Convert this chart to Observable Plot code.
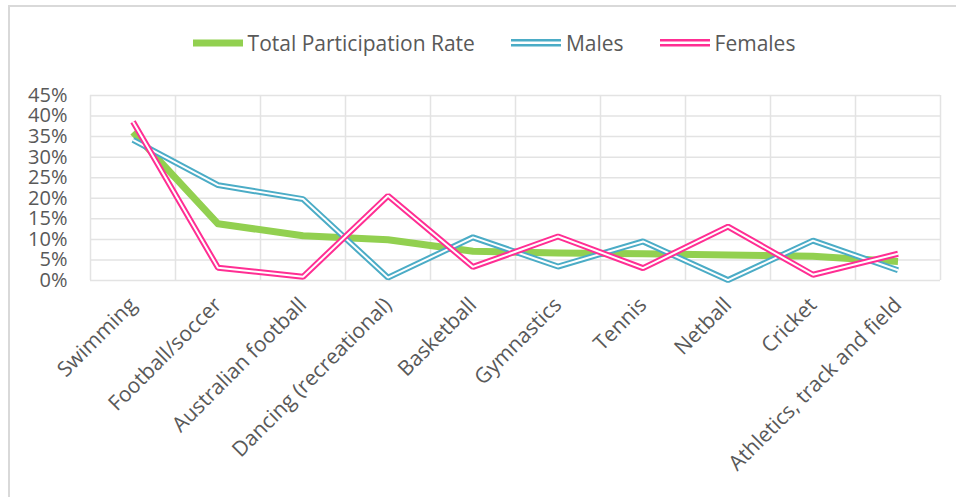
<!DOCTYPE html>
<html>
<head>
<meta charset="utf-8">
<script src="https://cdn.jsdelivr.net/npm/d3@7"></script>
<script src="https://cdn.jsdelivr.net/npm/@observablehq/plot@0.6"></script>
<style>
  html, body { margin: 0; padding: 0; background: #fff; }
  body { width: 956px; height: 497px; overflow: hidden; position: relative; font-family: "Open Sans", sans-serif; }
  #frame { position: absolute; left: 8px; top: 5px; width: 1000px; height: 600px; border-left: 2px solid #D9D9D9; border-top: 2px solid #D9D9D9; box-sizing: border-box; }
  #legend { position: absolute; left: 16px; top: 28px; width: 956px; height: 30px; display: flex; justify-content: center; align-items: center; font-size: 21px; color: #595959; }
  .item { display: flex; align-items: center; margin: 0 18px; }
  .item svg { margin-right: 5px; }
  #chart { position: absolute; left: 0; top: 80px; }
</style>
</head>
<body>
<div id="frame"></div>
<div id="legend"></div>
<div id="chart"></div>
<script>
const categories = ["Swimming", "Football/soccer", "Australian football", "Dancing (recreational)", "Basketball", "Gymnastics", "Tennis", "Netball", "Cricket", "Athletics, track and field"];
const total   = [0.361, 0.138, 0.109, 0.099, 0.071, 0.067, 0.065, 0.062, 0.059, 0.046];
const males   = [0.342, 0.232, 0.198, 0.007, 0.105, 0.034, 0.095, 0.001, 0.097, 0.025];
const females = [0.386, 0.031, 0.009, 0.206, 0.033, 0.107, 0.030, 0.131, 0.014, 0.065];
const seriesNames = ["Total Participation Rate", "Males", "Females"];
const colors = {"Total Participation Rate": "#92D050", "Males": "#4BACC6", "Females": "#FF2E93"};
const yTicks = [0, 0.05, 0.10, 0.15, 0.20, 0.25, 0.30, 0.35, 0.40, 0.45];

const toRows = (vals) => vals.map((v, i) => ({i, v}));
const totalRows = toRows(total), maleRows = toRows(males), femaleRows = toRows(females);
const bounds = d3.range(categories.length + 1).map(k => k - 0.5);

const chart = Plot.plot({
  width: 956,
  height: 417,
  marginTop: 15,
  marginBottom: 217,
  marginLeft: 90,
  marginRight: 16,
  style: {fontFamily: "Open Sans, sans-serif", color: "#595959", background: "transparent"},
  x: {domain: [-0.5, categories.length - 0.5], label: null},
  y: {domain: [0, 0.45], label: null},
  marks: [
    Plot.ruleY(yTicks, {stroke: "#E3E3E3", strokeWidth: 1.5}),
    Plot.ruleX(bounds, {stroke: "#E3E3E3", strokeWidth: 1.5}),
    Plot.axisY({ticks: yTicks, tickFormat: d3.format(".0%"), tickSize: 0, tickPadding: 23, fontSize: 20, fill: "#595959", label: null}),
    Plot.axisX({ticks: d3.range(categories.length), tickFormat: i => categories[i], tickSize: 0, tickPadding: 21, tickRotate: -45, fontSize: 21, fill: "#595959", label: null}),
    Plot.line(totalRows, {x: "i", y: "v", stroke: colors["Total Participation Rate"], strokeWidth: 7, strokeLinejoin: "round", strokeLinecap: "butt"}),
    Plot.line(maleRows, {x: "i", y: "v", stroke: colors["Males"], strokeWidth: 6, strokeLinejoin: "miter", strokeLinecap: "butt"}),
    Plot.line(maleRows, {x: "i", y: "v", stroke: "#fff", strokeWidth: 2, strokeLinejoin: "miter", strokeLinecap: "butt"}),
    Plot.line(femaleRows, {x: "i", y: "v", stroke: colors["Females"], strokeWidth: 6, strokeLinejoin: "miter", strokeLinecap: "butt"}),
    Plot.line(femaleRows, {x: "i", y: "v", stroke: "#fff", strokeWidth: 2, strokeLinejoin: "miter", strokeLinecap: "butt"})
  ]
});
document.getElementById("chart").appendChild(chart);

const legend = document.getElementById("legend");
seriesNames.forEach(name => {
  const item = document.createElement("div");
  item.className = "item";
  const c = colors[name];
  const sw = name === seriesNames[0]
    ? `<svg width="50" height="10"><rect x="0" y="1.5" width="50" height="7" fill="${c}"/></svg>`
    : `<svg width="50" height="10"><rect x="0" y="1" width="50" height="2.5" fill="${c}"/><rect x="0" y="6" width="50" height="2.5" fill="${c}"/></svg>`;
  item.innerHTML = sw + `<span>${name}</span>`;
  legend.appendChild(item);
});
</script>
</body>
</html>
